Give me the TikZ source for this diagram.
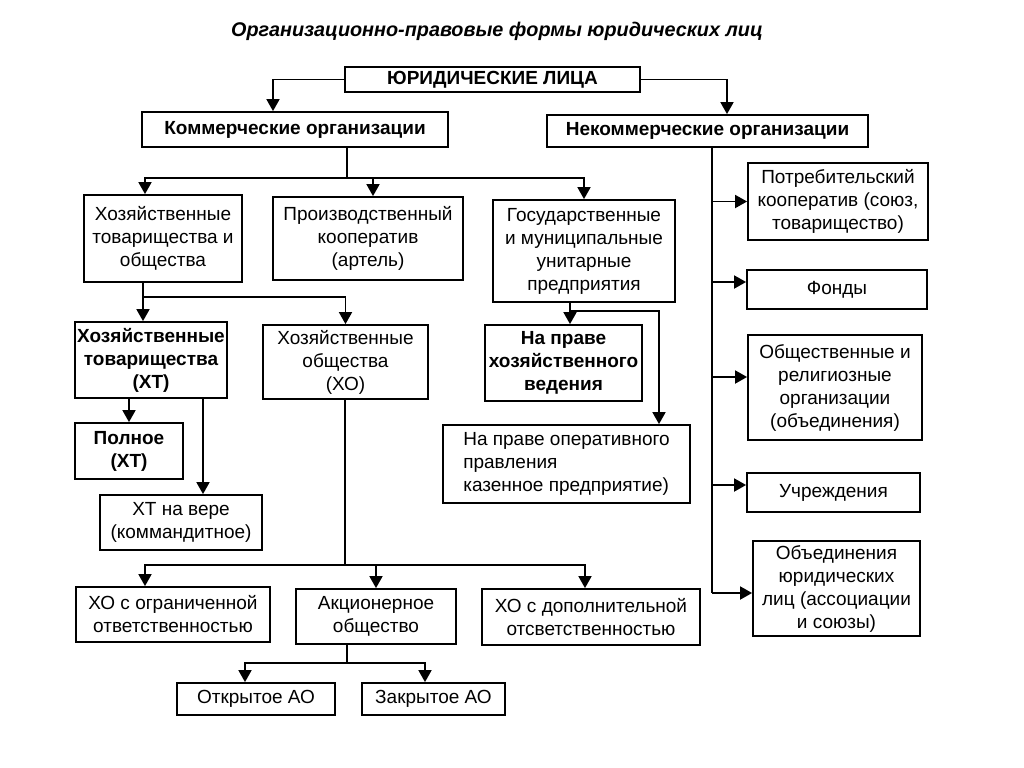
\documentclass[tikz,border=0pt]{standalone}
\usepackage{fontspec}
\setmainfont{Liberation Sans}
\usetikzlibrary{arrows.meta}

\tikzset{
  box/.style={draw, line width=0.9pt, align=center, inner sep=1pt,
    font=\fontsize{9.5}{11.5}\selectfont},
  boxb/.style={box, font=\fontsize{9.5}{11.5}\selectfont\bfseries},
  arr/.style={line width=0.9pt, -{Triangle[length=6pt,width=6.5pt]}},
  link/.style={line width=0.9pt},
}

\begin{document}
\begin{tikzpicture}[x=0.5pt,y=-0.5pt]
            \useasboundingbox (0,0) rectangle (1024,767);

            \node[font=\fontsize{9.9}{12}\selectfont\bfseries\itshape] (title) at (497,31) {Организационно-правовые формы юридических лиц};

            \node[boxb, minimum width=147.5pt, minimum height=12.5pt] (jl) at (492.5,79.5) {ЮРИДИЧЕСКИЕ ЛИЦА};
            \node[boxb, minimum width=153pt, minimum height=17.5pt] (kom) at (295,129.5) {Коммерческие организации};
            \node[boxb, minimum width=160.5pt, minimum height=16pt] (nekom) at (707.5,131) {Некоммерческие организации};

            \node[box, minimum width=79pt, minimum height=43.5pt] (hto) at (163,238.5) {Хозяйственные\\товарищества и\\общества};
            \node[box, minimum width=95pt, minimum height=41.5pt] (pk) at (368,238.5) {Производственный\\кооператив\\(артель)};
            \node[box, minimum width=91pt, minimum height=51pt] (gmup) at (584,251) {Государственные\\и муниципальные\\унитарные\\предприятия};

            \node[boxb, minimum width=76pt, minimum height=38pt] (ht) at (151,360) {Хозяйственные\\товарищества\\(ХТ)};
            \node[box, minimum width=82.5pt, minimum height=37pt] (ho) at (345.5,362) {Хозяйственные\\общества\\(ХО)};
            \node[boxb, minimum width=54pt, minimum height=28pt] (poln) at (129,451) {Полное\\(ХТ)};
            \node[box, minimum width=81pt, minimum height=27.5pt] (htv) at (181,522.5) {ХТ на вере\\(коммандитное)};

            \node[boxb, minimum width=78.5pt, minimum height=38pt] (phv) at (563.5,363) {На праве\\хозяйственного\\ведения};
            \node[box, align=left, minimum width=123.5pt, minimum height=39pt] (pou) at (566.5,464) {На праве оперативного\\правления\\казенное предприятие)};

            \node[box, minimum width=97pt, minimum height=27.5pt] (hoo) at (173,614.5) {ХО с ограниченной\\ответственностью};
            \node[box, minimum width=80pt, minimum height=27.5pt] (ao) at (376,616.5) {Акционерное\\общество};
            \node[box, minimum width=109pt, minimum height=28pt] (hod) at (591,617) {ХО с дополнительной\\отсветственностью};
            \node[box, minimum width=79pt, minimum height=16pt] (oao) at (256,699) {Открытое АО};
            \node[box, minimum width=71.5pt, minimum height=16pt] (zao) at (433.5,699) {Закрытое АО};

            \node[box, minimum width=90pt, minimum height=38.5pt] (potr) at (838,201.5) {Потребительский\\кооператив (союз,\\товарищество)};
            \node[box, minimum width=90pt, minimum height=19.5pt] (fond) at (837,289.5) {Фонды};
            \node[box, minimum width=87pt, minimum height=52.5pt] (obsh) at (835,387.5) {Общественные и\\религиозные\\организации\\(объединения)};
            \node[box, minimum width=86.5pt, minimum height=19.5pt] (uchr) at (833.5,492.5) {Учреждения};
            \node[box, minimum width=83.5pt, minimum height=47.5pt] (obyed) at (836.5,588.5) {Объединения\\юридических\\лиц (ассоциации\\и союзы)};

            % entry points on the boxes
            \coordinate (komin) at ([xshift=-11pt]kom.north);
            \coordinate (nekomin) at ([xshift=9.75pt]nekom.north);
            \coordinate (htoin) at ([xshift=-9pt]hto.north);
            \coordinate (pkin) at ([xshift=2.5pt]pk.north);
            \coordinate (htvin) at ([xshift=11pt]htv.north);
            \coordinate (hooin) at ([xshift=-14pt]hoo.north);
            \coordinate (hodin) at ([xshift=-3pt]hod.north);
            \coordinate (oaoin) at ([xshift=-5.5pt]oao.north);
            \coordinate (zaoin) at ([xshift=-4.25pt]zao.north);
            \coordinate (pouin) at ([xshift=46.25pt]pou.north);
            \coordinate (fondin) at ([yshift=3.75pt]fond.west);
            \coordinate (obshin) at ([yshift=5.25pt]obsh.west);
            \coordinate (uchrin) at ([yshift=3.75pt]uchr.west);
            \coordinate (obyedin) at ([yshift=-2.25pt]obyed.west);

            % branch points
            \coordinate (kfork) at (347,178);
            \coordinate (hfork) at (143,297);
            \coordinate (ofork) at (345,565);
            \coordinate (afork) at (347,663);
            \coordinate (gfork) at (570,311);
            \coordinate (ntrunk) at (712,147);

            \draw[arr] (jl.west) -| (komin); \draw[arr] (jl.east) -| (nekomin);

            \draw[link] (kom.south -| kfork) -- (kfork);
            \draw[arr] (kfork) -| (htoin); \draw[arr] (kfork) -| (pkin); \draw[arr] (kfork) -| (gmup.north);

            \draw[arr] (hto.south -| hfork) -- (ht.north -| hfork); \draw[arr] (hfork) -| (ho.north);
            \draw[arr] (ht.south -| poln.north) -- (poln.north); \draw[arr] (ht.south -| htvin) -- (htvin);

            \draw[link] (ho.south -| ofork) -- (ofork);
            \draw[arr] (ofork) -| (hooin); \draw[arr] (ofork) -| (ao.north); \draw[arr] (ofork) -| (hodin);
            \draw[link] (ao.south -| afork) -- (afork);
            \draw[arr] (afork) -| (oaoin); \draw[arr] (afork) -| (zaoin);

            \draw[arr] (gmup.south -| gfork) -- (phv.north -| gfork); \draw[arr] (gfork) -| (pouin);

            \draw[link] (nekom.south -| ntrunk) -- (obyedin -| ntrunk);
            \draw[arr] (potr.west -| ntrunk) -- (potr.west); \draw[arr] (fondin -| ntrunk) -- (fondin);
            \draw[arr] (obshin -| ntrunk) -- (obshin); \draw[arr] (uchrin -| ntrunk) -- (uchrin);
            \draw[arr] (obyedin -| ntrunk) -- (obyedin);
\end{tikzpicture}
\end{document}
